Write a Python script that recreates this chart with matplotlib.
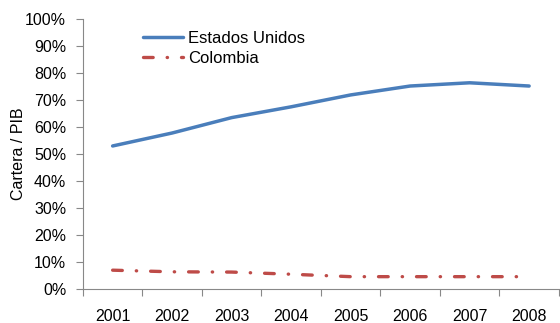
import numpy as np
import matplotlib
matplotlib.use('Agg')
import matplotlib.pyplot as plt
from matplotlib.ticker import FixedLocator, NullFormatter

plt.rcParams['font.family'] = ['Liberation Sans', 'DejaVu Sans']

years = ['2001', '2002', '2003', '2004', '2005', '2006', '2007', '2008']
eeuu = [53.0, 57.8, 63.5, 67.5, 71.9, 75.2, 76.4, 75.2]
colombia = [7.0, 6.4, 6.3, 5.5, 4.6, 4.6, 4.6, 4.6]

fig = plt.figure(figsize=(5.6, 3.23), dpi=100)
ax = fig.add_axes([0.148, 0.105, 0.850, 0.836])

x = np.arange(len(years))
ax.plot(x, np.array(eeuu) / 100, color='#4a7ebb', lw=2.5, solid_capstyle='round',
        label='Estados Unidos')
ax.plot(x, np.array(colombia) / 100, color='#be4b48', lw=2.4,
        dashes=(2.9, 4.2, 0.1, 4.2), dash_capstyle='round', label='Colombia')

ax.set_xlim(-0.5, len(years) - 0.5)
ax.set_ylim(0, 1.0)
yt = np.arange(0, 1.01, 0.1)
ax.set_yticks(yt)
ax.set_yticklabels([f'{int(round(v * 100))}%' for v in yt])

# category boundaries carry the tick marks, labels sit between them
ax.xaxis.set_major_locator(FixedLocator(np.arange(-0.5, len(years), 1.0)))
ax.xaxis.set_major_formatter(NullFormatter())
ax.xaxis.set_minor_locator(FixedLocator(x))
ax.set_xticklabels(years, minor=True)
ax.tick_params(axis='x', which='major', length=5, color='#888888', width=0.8)
ax.tick_params(axis='x', which='minor', length=0, pad=14, labelsize=11.5)
ax.tick_params(axis='y', length=5, color='#888888', width=0.8, labelsize=11.5, pad=7)

for s in ['top', 'right']:
    ax.spines[s].set_visible(False)
for s in ['left', 'bottom']:
    ax.spines[s].set_color('#888888')
    ax.spines[s].set_linewidth(0.8)

ax.set_ylabel('Cartera / PIB', fontsize=11.5)
ax.yaxis.set_label_coords(-0.12, 0.5)

ax.legend(loc='upper left', bbox_to_anchor=(0.127, 0.955), frameon=False,
          fontsize=12, handlelength=2.4, handletextpad=0.3, labelspacing=0.3,
          borderaxespad=0, borderpad=0)

fig.savefig('out.png', dpi=100)
